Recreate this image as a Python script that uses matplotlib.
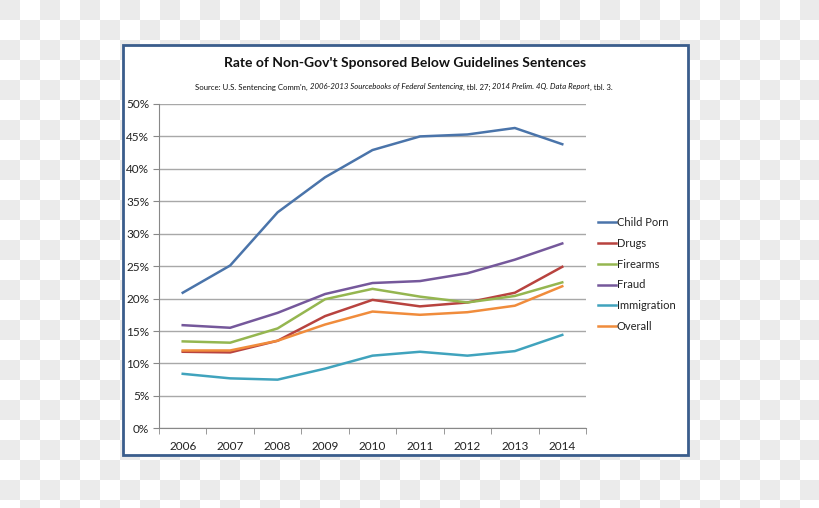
import numpy as np
import matplotlib
matplotlib.use('Agg')
import matplotlib.pyplot as plt
from matplotlib.patches import Rectangle
from matplotlib.ticker import FuncFormatter, MultipleLocator
from matplotlib.offsetbox import TextArea, HPacker, AnchoredOffsetbox

plt.rcParams['font.family'] = ['Lato', 'DejaVu Sans']

years = ['2006', '2007', '2008', '2009', '2010', '2011', '2012', '2013', '2014']
child_porn = [20.9, 25.1, 33.3, 38.7, 42.9, 45.0, 45.3, 46.3, 43.8]
drugs = [11.8, 11.7, 13.5, 17.3, 19.8, 18.8, 19.4, 20.9, 24.9]
firearms = [13.4, 13.2, 15.4, 19.9, 21.5, 20.3, 19.4, 20.4, 22.5]
fraud = [15.9, 15.5, 17.8, 20.7, 22.4, 22.7, 23.9, 26.0, 28.5]
immigration = [8.4, 7.7, 7.5, 9.2, 11.2, 11.8, 11.2, 11.9, 14.4]
overall = [12.0, 12.0, 13.5, 16.0, 18.0, 17.5, 17.9, 18.9, 21.9]

series = [
  ('Child Porn', child_porn, '#4a74aa'),
  ('Drugs', drugs, '#b8433f'),
  ('Firearms', firearms, '#95b650'),
  ('Fraud', fraud, '#75589b'),
  ('Immigration', immigration, '#40a3bd'),
  ('Overall', overall, '#f08c3c'),
]

W, H = 820, 508
fig = plt.figure(figsize=(W / 100, H / 100), dpi=100)

# checkered "transparent" background
bg = fig.add_axes([0, 0, 1, 1], zorder=-10)
checker = np.indices((26, 41)).sum(axis=0) % 2
bg.imshow(checker, cmap=matplotlib.colors.ListedColormap(['#ebebeb', '#ffffff']),
          extent=(0, 820, 520, 0), interpolation='nearest', aspect='auto')
bg.set_xlim(0, W)
bg.set_ylim(H, 0)
bg.axis('off')

# white chart frame
bg.add_patch(Rectangle((123, 45), 565, 410, facecolor='white',
                       edgecolor='#3a5d8c', linewidth=2))

ax = fig.add_axes([159 / W, 1 - 428.3 / H, 427 / W, 324.3 / H])
x = np.arange(len(years))
for name, vals, col in series:
  ax.plot(x, np.array(vals) / 100, color=col, linewidth=1.8, label=name)

ax.set_xlim(-0.5, len(years) - 0.5)
ax.set_ylim(0, 0.5)
ax.yaxis.set_major_locator(MultipleLocator(0.05))
ax.yaxis.set_major_formatter(FuncFormatter(lambda v, p: '%d%%' % round(v * 100)))
ax.set_xticks(x)
ax.set_xticklabels(years)
ax.set_xticks(np.arange(-0.5, len(years)), minor=True)
ax.tick_params(axis='x', which='major', length=0, pad=9, labelsize=8.5, colors='#222222')
ax.tick_params(axis='x', which='minor', length=4, color='#888888', direction='out')
ax.tick_params(axis='y', length=4, color='#888888', labelsize=8.5, colors='#222222', pad=3)
ax.tick_params(axis='y', colors='#888888', labelcolor='#222222')
ax.grid(axis='y', color='#a8a8a8', linewidth=1)
ax.set_axisbelow(True)
for s in ['top', 'right']:
  ax.spines[s].set_visible(False)
for s in ['left', 'bottom']:
  ax.spines[s].set_color('#888888')
ax.set_facecolor('none')

leg = fig.legend(loc='center left', bbox_to_anchor=(598 / W, 1 - 274.5 / H),
                 frameon=False, fontsize=8, handlelength=1.6, handletextpad=0.1,
                 labelspacing=0.88, borderpad=0, borderaxespad=0)
for t in leg.get_texts():
  t.set_color('#222222')

fig.text(405.5 / W, 1 - 63 / H, "Rate of Non-Gov't Sponsored Below Guidelines Sentences",
         ha='center', va='center', fontsize=10, fontweight='bold', color='#111111')

parts = [
  ("Source: U.S. Sentencing Comm'n, ", 'normal'),
  ("2006-2013 Sourcebooks of Federal Sentencing", 'italic'),
  (", tbl. 27; ", 'normal'),
  ("2014 Prelim. 4Q. Data Report", 'italic'),
  (", tbl. 3.", 'normal'),
]
boxes = [TextArea(t, textprops=dict(fontsize=5.6, style=st, color='#111111')) for t, st in parts]
src = AnchoredOffsetbox(loc='center',
                        child=HPacker(children=boxes, pad=0, sep=0, align='baseline'),
                        bbox_to_anchor=(404 / W, 1 - 87 / H),
                        bbox_transform=fig.transFigure, frameon=False, pad=0, borderpad=0)
fig.add_artist(src)

fig.savefig('out.png', dpi=100)
